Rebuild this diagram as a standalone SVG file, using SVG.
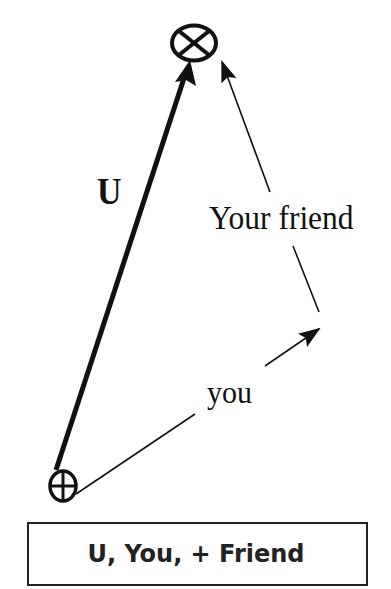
<svg xmlns="http://www.w3.org/2000/svg" width="391" height="589" viewBox="0 0 391 589">
<style>
.lbl{font-family:"Liberation Serif","Times New Roman",serif;fill:#111}
.node{fill:none;stroke:#111}
.thin{stroke:#111;stroke-width:1.6;fill:none}
.thick{stroke:#111;stroke-width:5;fill:none}
</style>
<defs>
<marker id="ahs" markerWidth="22" markerHeight="20" refX="20" refY="10" orient="auto" markerUnits="userSpaceOnUse" viewBox="0 0 22 20">
<path d="M0,2 L22,10 L0,18 L4,10 z" fill="#111"/>
</marker>
</defs>
<rect width="391" height="589" fill="#fff"/>
<g id="connectors">
<line class="thick" x1="56" y1="470" x2="186" y2="72"/>
<path d="M190,60 L196,86 L186,80 L175,82 z" fill="#111"/>
<line class="thin" x1="76" y1="494" x2="195" y2="414"/>
<line class="thin" x1="265" y1="366" x2="319" y2="329" marker-end="url(#ahs)"/>
<line class="thin" x1="319" y1="312" x2="293" y2="246"/>
<line class="thin" x1="270" y1="192" x2="222" y2="62" marker-end="url(#ahs)"/>
</g>
<g id="target">
<ellipse class="node" cx="194" cy="43" rx="22" ry="17.5" stroke-width="4"/>
<line class="node" x1="179" y1="31" x2="209" y2="55" stroke-width="4"/>
<line class="node" x1="209" y1="31" x2="179" y2="55" stroke-width="4"/>
</g>
<g id="origin">
<ellipse class="node" cx="63" cy="486" rx="13" ry="15" stroke-width="3.5"/>
<line class="node" x1="50" y1="486" x2="76" y2="486" stroke-width="3"/>
<line class="node" x1="63" y1="471" x2="63" y2="501" stroke-width="3"/>
</g>
<g id="labels">
<text class="lbl" transform="translate(97,204) scale(1,1.1)" font-weight="bold" font-size="34">U</text>
<text class="lbl" transform="translate(209,229) scale(1,1.06)" font-size="31.5">Your friend</text>
<text class="lbl" transform="translate(207,403) scale(1,1.06)" font-size="30">you</text>
</g>
<g id="caption">
<rect x="28" y="523" width="339" height="62" fill="none" stroke="#222" stroke-width="2"/>
<text x="196" y="562" text-anchor="middle" font-family="'DejaVu Sans',Verdana,sans-serif" font-weight="bold" font-size="24" fill="#222">U, You, + Friend</text>
</g>
</svg>
